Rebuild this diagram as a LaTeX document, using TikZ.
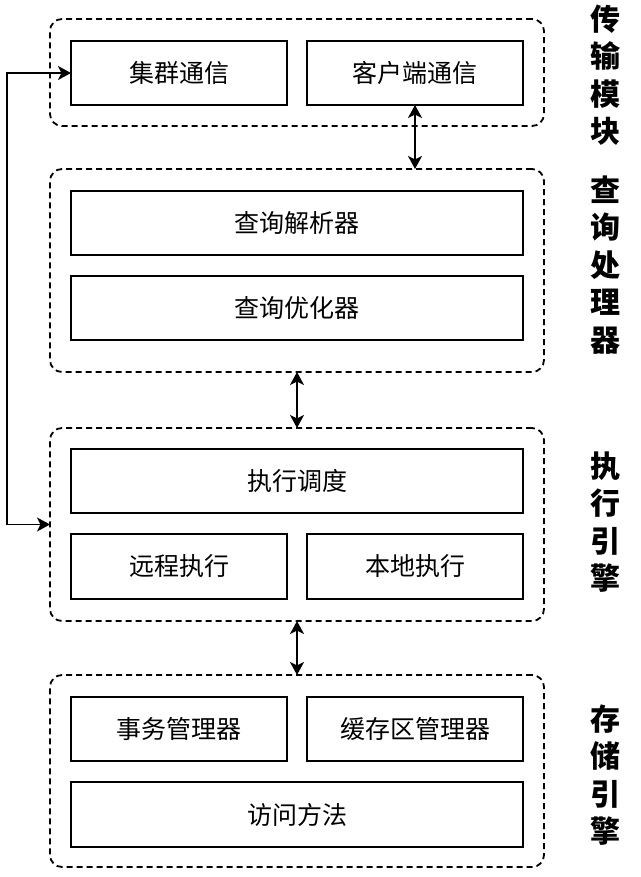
\documentclass[tikz,border=0pt]{standalone}
\usepackage{fontspec}
\newfontfamily\cjk{Noto Sans CJK SC}
\usetikzlibrary{arrows.meta}
\begin{document}
\begin{tikzpicture}[x=1pt,y=-1pt,
  box/.style={draw, line width=2pt, inner sep=0pt, outer sep=0pt, font=\cjk\fontsize{25}{30}\selectfont},
  grp/.style={draw, line width=1.8pt, dash pattern=on 6pt off 4pt, rounded corners=12pt, inner sep=0pt, outer sep=0pt},
  lbl/.style={align=center, font=\cjk\bfseries\fontsize{30}{37.5}\selectfont},
  arr/.style={line width=1.6pt, {Stealth[length=13pt,width=14pt,inset=3.5pt]}-{Stealth[length=13pt,width=14pt,inset=3.5pt]}}
]
\useasboundingbox (0,0) rectangle (640,877);
% containers
\node[grp, minimum width=494pt, minimum height=107pt] (c1) at (297,72.5) {};
\node[grp, minimum width=494pt, minimum height=203pt] (c2) at (297,270.5) {};
\node[grp, minimum width=494pt, minimum height=193pt] (c3) at (297,524.5) {};
\node[grp, minimum width=494pt, minimum height=192pt] (c4) at (297,771) {};
% boxes
\node[box, minimum width=216pt, minimum height=64pt] (a) at (179,73) {集群通信};
\node[box, minimum width=216pt, minimum height=64pt] (b) at (415,73) {客户端通信};
\node[box, minimum width=452pt, minimum height=64pt] (qp) at (297,223) {查询解析器};
\node[box, minimum width=452pt, minimum height=64pt] (qo) at (297,308) {查询优化器};
\node[box, minimum width=452pt, minimum height=64pt] (es) at (297,481) {执行调度};
\node[box, minimum width=216pt, minimum height=65pt] (re) at (179,566.5) {远程执行};
\node[box, minimum width=216pt, minimum height=65pt] (le) at (415,566.5) {本地执行};
\node[box, minimum width=216pt, minimum height=64pt] (tm) at (179,729) {事务管理器};
\node[box, minimum width=216pt, minimum height=64pt] (bm) at (415,729) {缓存区管理器};
\node[box, minimum width=452pt, minimum height=65pt] (am) at (297,814.5) {访问方法};
% labels
\node[lbl] (l1) at (605,75) {传\\输\\模\\块};
\node[lbl] (l2) at (605,265) {查\\询\\处\\理\\器};
\node[lbl] (l3) at (605,522) {执\\行\\引\\擎};
\node[lbl] (l4) at (605,775) {存\\储\\引\\擎};
% connectors
\coordinate (lx) at (7,0);
\draw[arr] (b.south) -- (b.south |- c2.north);
\draw[arr] (c2.south) -- (c3.north);
\draw[arr] (c3.south) -- (c4.north);
\draw[arr, rounded corners=0pt] (c3.west) -- (c3.west -| lx) |- (a.west);
\end{tikzpicture}
\end{document}
